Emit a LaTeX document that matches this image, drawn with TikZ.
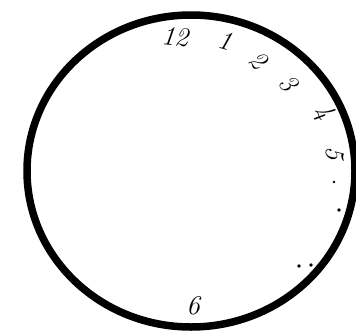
\documentclass[tikz,border=0pt]{standalone}
\usetikzlibrary{positioning}

\begin{document}
\begin{tikzpicture}[
  x=1pt, y=-1pt,
  numeral/.style={font=\itshape\fontsize{27}{27}\selectfont, inner sep=0pt},
  dotmark/.style={circle, fill=black, inner sep=0pt, minimum size=3.6pt},
  rim/.style={line width=7.5pt, black}
]
  \useasboundingbox (0,0) rectangle (356,333);

  % clock face
  \draw[rim] (191,171) ellipse [x radius=164, y radius=156];

  % hours written round the rim
  \node[numeral, rotate=-5]  (twelve) at (175,37)  {12};
  \node[numeral, rotate=-15] (one)    at (225,41)  {1};
  \node[numeral, rotate=-45] (two)    at (258,60)  {2};
  \node[numeral, rotate=-50] (three)  at (288,83)  {3};
  \node[numeral, rotate=-55] (four)   at (324,112) {4};
  \node[numeral, rotate=-90] (five)   at (335,153) {5};
  \node[numeral]             (six)    at (193,306) {6};

  % dots in place of the missing hours
  \node[dotmark, minimum size=2.8pt] (dotA) at (334,182) {};
  \node[dotmark]                     (dotB) at (339,210) {};
  \node[dotmark]                     (dotC) at (299,266) {};
  \node[dotmark]                     (dotD) at (311,265) {};
\end{tikzpicture}
\end{document}
